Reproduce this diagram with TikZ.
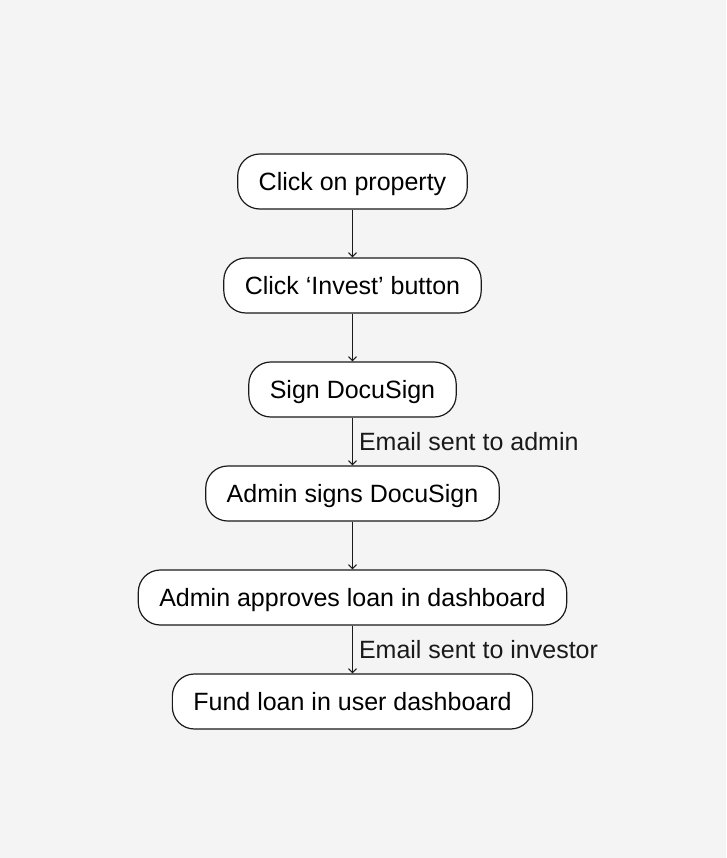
\documentclass[tikz,border=0pt]{standalone}
\usepackage{fontspec}
\setmainfont{Liberation Sans}
\usepackage{xcolor}
\usepackage{tikz}
\usetikzlibrary{arrows.meta}

\definecolor{bggray}{HTML}{F4F4F4}
\definecolor{inkgray}{HTML}{1A1A1A}

\tikzset{
    stepbox/.style={draw=inkgray, line width=1.2pt, fill=white, rounded corners=22pt,
        minimum height=55pt, inner xsep=21pt, inner ysep=0pt,
        text height=18pt, text depth=0pt},
    flow/.style={draw=inkgray, line width=1pt, -{Straight Barb[length=4pt,width=8pt]}},
    flowlabel/.style={right, inner xsep=6pt, text=inkgray, text height=18pt, text depth=0pt}
}

\begin{document}
\begin{tikzpicture}[x=1pt, y=-1pt, font=\fontsize{25}{30}\selectfont]
    \fill[bggray] (0,0) rectangle (726,858);
    \useasboundingbox (0,0) rectangle (726,858);
    
    \node[stepbox] (property) at (352.5,181.5) {Click on property};
    \node[stepbox] (invest) at (352.5,285.5) {Click `Invest' button};
    \node[stepbox] (sign) at (352.5,389.5) {Sign DocuSign};
    \node[stepbox] (adminsign) at (352.5,493.5) {Admin signs DocuSign};
    \node[stepbox] (approve) at (352.5,597.5) {Admin approves loan in dashboard};
    \node[stepbox] (fund) at (352.5,701.5) {Fund loan in user dashboard};
    
    \draw[flow] (property) -- (invest);
    \draw[flow] (invest) -- (sign);
    \draw[flow] (sign) -- node[flowlabel] {Email sent to admin} (adminsign);
    \draw[flow] (adminsign) -- (approve);
    \draw[flow] (approve) -- node[flowlabel] {Email sent to investor} (fund);
    
\end{tikzpicture}
\end{document}
